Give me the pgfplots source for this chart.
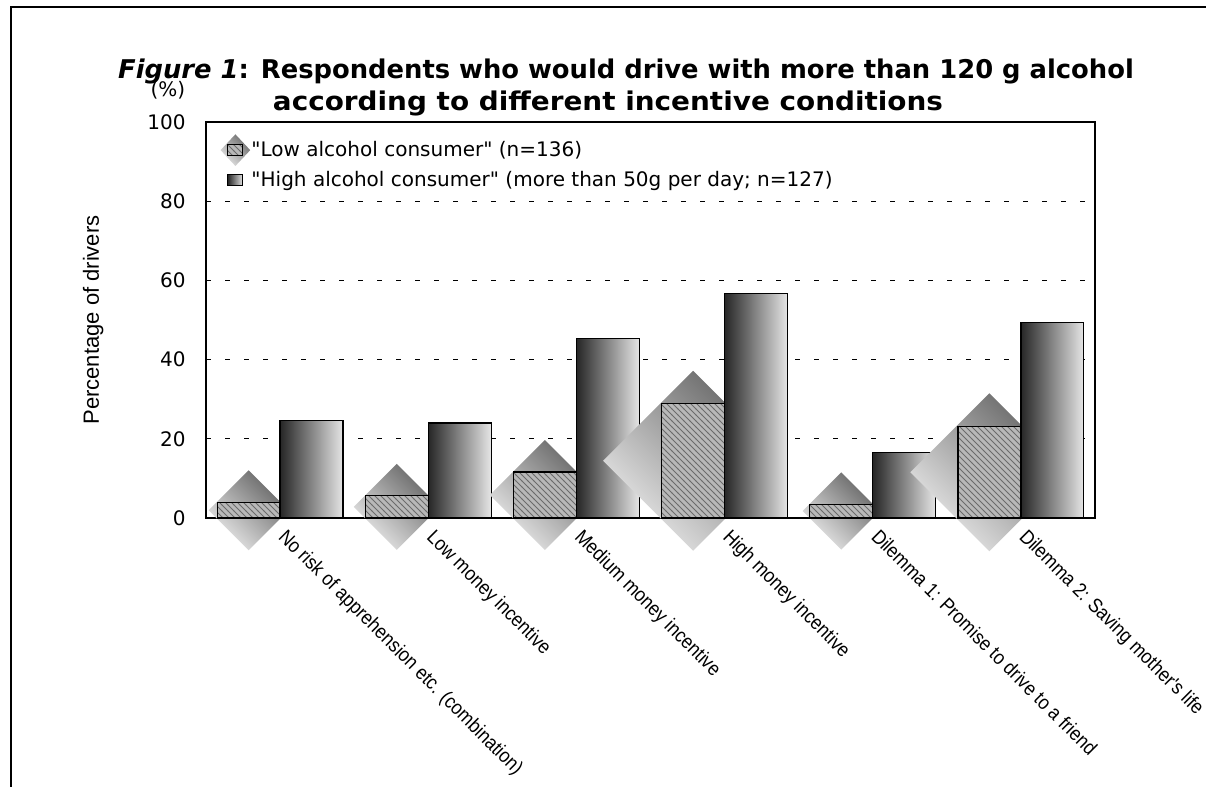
\documentclass[border=0pt]{standalone}
\usepackage{graphicx}
\usepackage{pgfplots}
\pgfplotsset{compat=1.18}
\usepackage{pgfplotstable}
\usetikzlibrary{patterns,shapes.geometric}
\usepackage{fontspec}
\setmainfont{DejaVu Sans}[Ligatures=TeXOff]
\newfontfamily\arialfont{Liberation Sans}[Ligatures=TeXOff]
\newfontfamily\narrowfont{Liberation Sans}[Ligatures=TeXOff, FakeStretch=0.89]

\pgfdeclarehorizontalshading{diamshade}{100bp}{color(0bp)=(black!8); color(25bp)=(black!8); color(75bp)=(black!62); color(100bp)=(black!62)}
\pgfdeclareplotmark{sdiamond}{%
  \pgfpathmoveto{\pgfqpoint{0pt}{\pgfplotmarksize}}%
  \pgfpathlineto{\pgfqpoint{\pgfplotmarksize}{0pt}}%
  \pgfpathlineto{\pgfqpoint{0pt}{-\pgfplotmarksize}}%
  \pgfpathlineto{\pgfqpoint{-\pgfplotmarksize}{0pt}}%
  \pgfpathclose
  \pgfshadepath{diamshade}{45}%
  \pgfusepath{discard}%
}

% i = category index, low / high = percentage, d = diamond half-diagonal (pt)
\pgfplotstableread{
i low high d
0 3.9 24.6 20
1 5.6 24.0 21.5
2 11.6 45.3 27.5
3 28.9 56.6 45
4 3.5 16.5 19.3
5 23.1 49.4 39.5
}\data

\pgfplotsset{
  only row/.style 2 args={skip coords between index={0}{#1},skip coords between index={#2}{6}},
  diam/.style={only marks, forget plot, scatter, mark=sdiamond, clip marker paths=true,
    visualization depends on={\thisrow{d} \as \dsize},
    scatter/@pre marker code/.append style={/tikz/mark size=\dsize pt}},
  lowbar/.style={ybar, forget plot, bar width=0.425, bar shift=-0.2125, draw=black, line width=0.6pt,
    fill=black!28, postaction={pattern=north west lines, pattern color=black!58}},
  highbar/.style={ybar, forget plot, bar width=0.425, bar shift=0.2125, draw=black, line width=0.6pt,
    left color=black!85, right color=black!10},
}
\newcommand{\group}[2]{%
  \addplot[diam, only row={#1}{#2}] table[x expr=\thisrow{i}-0.2125, y expr=\thisrow{low}/2] \data;
  \addplot[lowbar, only row={#1}{#2}] table[x=i, y=low] \data;
  \addplot[highbar, only row={#1}{#2}] table[x=i, y=high] \data;
}

\begin{document}
\begin{tikzpicture}
\path[use as bounding box] (0pt,0pt) rectangle (603pt,-393.5pt);
\draw[line width=0.9pt] (5.5pt,-393.5pt) -- (5.5pt,-3.5pt) -- (603pt,-3.5pt);
\node[anchor=base, font=\fontsize{12.9}{15}\selectfont\bfseries] at (313pt,-39pt)
  {\textit{Figure 1}: Respondents who would drive with more than 120 g alcohol};
\node[anchor=base, font=\fontsize{12.9}{15}\selectfont\bfseries] at (304pt,-55pt)
  {\scalebox{1.08}[1]{according to different incentive conditions}};
\node[anchor=center, font=\fontsize{10}{12}\selectfont] at (84pt,-45pt) {(\%)};
\begin{axis}[
  at={(103pt,-259pt)}, anchor=south west,
  scale only axis, width=444.5pt, height=198pt,
  clip=false,
  xmin=-0.5, xmax=5.5, ymin=0, ymax=100,
  axis line style={line width=0.8pt},
  ytick={0,20,40,60,80,100},
  xtick={0,1,2,3,4,5},
  major tick length=0pt,
  ymajorgrids,
  major grid style={black, line width=0.5pt, dash pattern=on 2.5pt off 7pt},
  yticklabel style={font=\fontsize{10}{12}\selectfont, /pgf/number format/assume math mode=true,
    anchor=east, inner sep=0pt, xshift=-10pt},
  xticklabels={No risk of apprehension etc. (combination), Low money incentive,
    Medium money incentive, High money incentive, Dilemma 1: Promise to drive to a friend,
    Dilemma 2: Saving mother's life},
  xticklabel style={font=\narrowfont\fontsize{10}{12}\selectfont, rotate=-45, anchor=north west,
    inner sep=0pt, yshift=-0.5pt, xshift=6pt},
  ylabel={Percentage of drivers},
  ylabel style={font=\arialfont\fontsize{11}{13}\selectfont, at={(axis description cs:-0.127,0.5)}, anchor=center},
  legend style={at={(axis description cs:0.0235,0.963)}, anchor=north west, draw=none, fill=none,
    font=\fontsize{10}{12}\selectfont, row sep=2pt, inner sep=0pt,
    /tikz/every odd column/.append style={column sep=2pt}},
  legend cell align=left,
]
\addlegendimage{legend image code/.code={
  \node[overlay, anchor=center, shape=diamond, inner sep=0pt, minimum width=15pt, minimum height=16pt, shading=axis,
    top color=black!58, bottom color=black!10, shading angle=-45] at (3.75pt,0pt) {};
  \draw[line width=0.6pt, fill=black!28, postaction={pattern=north west lines, pattern color=black!58}]
    (0pt,-2.75pt) rectangle (7.5pt,2.75pt);}}
\addlegendentry{"Low alcohol consumer" (n=136)}
\addlegendimage{legend image code/.code={
  \draw[line width=0.6pt, left color=black!85, right color=black!10]
    (0pt,-2.75pt) rectangle (7.5pt,2.75pt);}}
\addlegendentry{"High alcohol consumer" (more than 50g per day; n=127)}
\group{0}{1}
\group{1}{2}
\group{2}{3}
\group{3}{4}
\group{4}{5}
\group{5}{6}
\end{axis}
\end{tikzpicture}
\end{document}
